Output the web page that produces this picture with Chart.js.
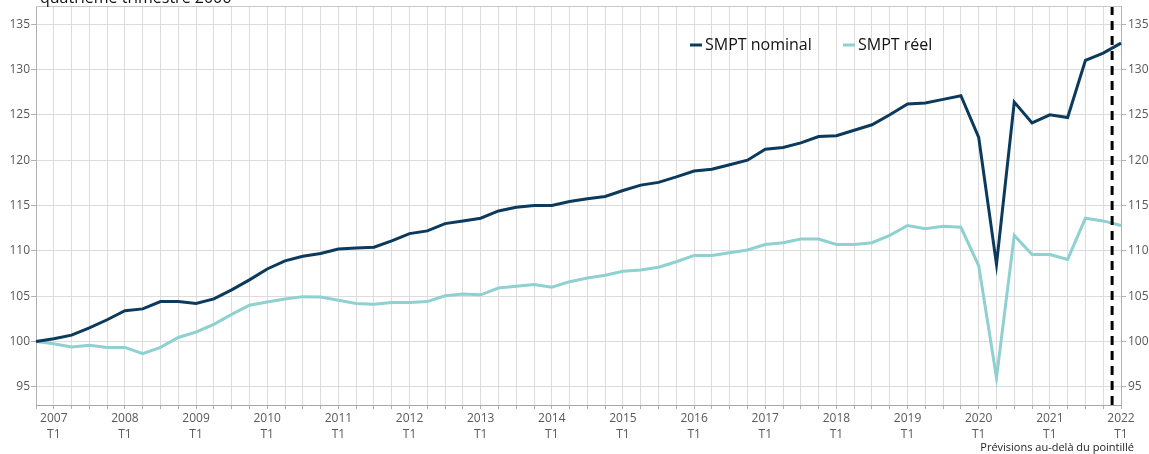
<!DOCTYPE html>
<html lang="fr">
<head>
<meta charset="utf-8">
<title>SMPT nominal et réel</title>
<script src="https://cdn.jsdelivr.net/npm/chart.js@4.4.1/dist/chart.umd.min.js"></script>
<style>
    html, body { margin: 0; padding: 0; background: #fff; }
    #wrap { position: relative; width: 1149px; height: 454px; }
</style>
</head>
<body>
<div id="wrap"><canvas id="smptChart"></canvas></div>
<script>
// Trimestres : base 100 = 2006 T4, dernier point 2022 T1
const quarters = [
    '2006 T4',
    '2007 T1', '2007 T2', '2007 T3', '2007 T4',
    '2008 T1', '2008 T2', '2008 T3', '2008 T4',
    '2009 T1', '2009 T2', '2009 T3', '2009 T4',
    '2010 T1', '2010 T2', '2010 T3', '2010 T4',
    '2011 T1', '2011 T2', '2011 T3', '2011 T4',
    '2012 T1', '2012 T2', '2012 T3', '2012 T4',
    '2013 T1', '2013 T2', '2013 T3', '2013 T4',
    '2014 T1', '2014 T2', '2014 T3', '2014 T4',
    '2015 T1', '2015 T2', '2015 T3', '2015 T4',
    '2016 T1', '2016 T2', '2016 T3', '2016 T4',
    '2017 T1', '2017 T2', '2017 T3', '2017 T4',
    '2018 T1', '2018 T2', '2018 T3', '2018 T4',
    '2019 T1', '2019 T2', '2019 T3', '2019 T4',
    '2020 T1', '2020 T2', '2020 T3', '2020 T4',
    '2021 T1', '2021 T2', '2021 T3', '2021 T4',
    '2022 T1'
];

const smptNominal = [
    100.0,
    100.3, 100.7, 101.5, 102.4,
    103.4, 103.6, 104.4, 104.4,
    104.2, 104.7, 105.7, 106.8,
    108.0, 108.9, 109.4, 109.7,
    110.2, 110.3, 110.4, 111.1,
    111.9, 112.2, 113.0, 113.3,
    113.6, 114.4, 114.8, 115.0,
    115.0, 115.45, 115.75, 116.0,
    116.65, 117.25, 117.55, 118.15,
    118.8, 119.0, 119.5, 120.0,
    121.2, 121.4, 121.9, 122.6,
    122.7, 123.3, 123.9, 125.0,
    126.2, 126.3, 126.7, 127.1,
    122.5, 108.5, 126.4, 124.1,
    125.0, 124.7, 131.0, 131.8,
    132.9
];

const smptReel = [
    100.0,
    99.75, 99.4, 99.6, 99.35,
    99.35, 98.65, 99.35, 100.45,
    101.05, 101.9, 103.0, 104.0,
    104.35, 104.7, 104.95, 104.9,
    104.55, 104.2, 104.1, 104.3,
    104.3, 104.4, 105.05, 105.25,
    105.15, 105.9, 106.1, 106.3,
    106.0, 106.6, 107.0, 107.3,
    107.75, 107.9, 108.2, 108.8,
    109.5, 109.5, 109.8, 110.1,
    110.7, 110.9, 111.3, 111.3,
    110.7, 110.7, 110.9, 111.7,
    112.8, 112.45, 112.7, 112.6,
    108.35, 96.0, 111.7, 109.6,
    109.6, 109.05, 113.6, 113.3,
    112.8
];

const yTicks = [95, 100, 105, 110, 115, 120, 125, 130, 135];
const forecastFrom = 60.5;   // entre 2021 T4 et 2022 T1

const FONT = '"Open Sans", "Noto Sans", sans-serif';
const NAVY = '#0b3a5c';
const TEAL = '#8fd0d0';

// Légende, encadré, pointillé et textes annexes
const overlayPlugin = {
    id: 'overlay',
    afterDatasetsDraw(chart) {
        const { ctx, chartArea, scales } = chart;
        const x = scales.x.getPixelForValue(forecastFrom);
        ctx.save();
        ctx.strokeStyle = '#000';
        ctx.lineWidth = 3;
        ctx.setLineDash([9, 6]);
        ctx.beginPath();
        ctx.moveTo(x, chartArea.top);
        ctx.lineTo(x, chartArea.bottom);
        ctx.stroke();
        ctx.restore();
    },
    afterDraw(chart) {
        const { ctx, chartArea } = chart;
        ctx.save();

        // cadre haut
        ctx.strokeStyle = '#c8c8c8';
        ctx.lineWidth = 1;
        ctx.beginPath();
        ctx.moveTo(chartArea.left, chartArea.top + 0.5);
        ctx.lineTo(chartArea.right, chartArea.top + 0.5);
        ctx.stroke();

        // légende
        ctx.font = '16px ' + FONT;
        ctx.textBaseline = 'middle';
        ctx.textAlign = 'left';
        const items = [
            { text: 'SMPT nominal', color: NAVY, x: 690 },
            { text: 'SMPT réel', color: TEAL, x: 843 }
        ];
        items.forEach(item => {
            ctx.strokeStyle = item.color;
            ctx.lineWidth = 3;
            ctx.beginPath();
            ctx.moveTo(item.x, 45);
            ctx.lineTo(item.x + 12, 45);
            ctx.stroke();
            ctx.fillStyle = '#111';
            ctx.fillText(item.text, item.x + 15, 45);
        });

        // titre coupé en haut
        ctx.font = '16px ' + FONT;
        ctx.textBaseline = 'alphabetic';
        ctx.fillStyle = '#111';
        ctx.fillText('quatrième trimestre 2006', 40, 3);

        // note
        ctx.font = '11px ' + FONT;
        ctx.textAlign = 'right';
        ctx.textBaseline = 'middle';
        ctx.fillStyle = '#222';
        ctx.fillText('Prévisions au-delà du pointillé', 1134, 448);

        ctx.restore();
    }
};

const tickFont = { family: FONT, size: 12 };

const yAxis = (position, width) => ({
    position: position,
    min: 93,
    max: 137,
    afterBuildTicks: scale => {
        scale.ticks = yTicks.map(v => ({ value: v }));
    },
    afterFit: scale => {
        scale.width = width;
        scale.paddingTop = 0;
        scale.paddingBottom = 0;
    },
    grid: {
        display: true,
        drawOnChartArea: position === 'left',
        color: '#dcdcdc',
        tickColor: '#b0b0b0',
        tickLength: 5
    },
    border: { color: '#b0b0b0' },
    ticks: {
        color: '#595959',
        font: tickFont,
        padding: position === 'left' ? 1 : 2
    }
});

new Chart(document.getElementById('smptChart').getContext('2d'), {
    type: 'line',
    data: {
        labels: quarters,
        datasets: [
            {
                label: 'SMPT nominal',
                data: smptNominal,
                borderColor: NAVY,
                backgroundColor: NAVY,
                borderWidth: 3,
                pointRadius: 0,
                tension: 0
            },
            {
                label: 'SMPT réel',
                data: smptReel,
                borderColor: TEAL,
                backgroundColor: TEAL,
                borderWidth: 3,
                pointRadius: 0,
                tension: 0
            }
        ]
    },
    options: {
        responsive: true,
        maintainAspectRatio: false,
        animation: false,
        layout: { padding: { top: 6, left: 0, right: 0, bottom: 0 } },
        plugins: {
            legend: { display: false },
            tooltip: { enabled: false }
        },
        scales: {
            x: {
                offset: false,
                afterFit: scale => {
                    scale.height = 49;
                    scale.paddingLeft = 0;
                    scale.paddingRight = 0;
                },
                grid: {
                    color: '#dcdcdc',
                    tickColor: '#b0b0b0',
                    tickLength: 4
                },
                border: { color: '#a6a6a6' },
                ticks: {
                    autoSkip: false,
                    maxRotation: 0,
                    minRotation: 0,
                    padding: 2,
                    color: '#595959',
                    font: { family: FONT, size: 12, lineHeight: 1.3 },
                    callback: function (value) {
                        const parts = this.getLabelForValue(value).split(' ');
                        return parts[1] === 'T1' ? [parts[0], parts[1]] : '';
                    }
                }
            },
            y: yAxis('left', 36),
            y2: yAxis('right', 28)
        }
    },
    plugins: [overlayPlugin]
});
</script>
</body>
</html>
